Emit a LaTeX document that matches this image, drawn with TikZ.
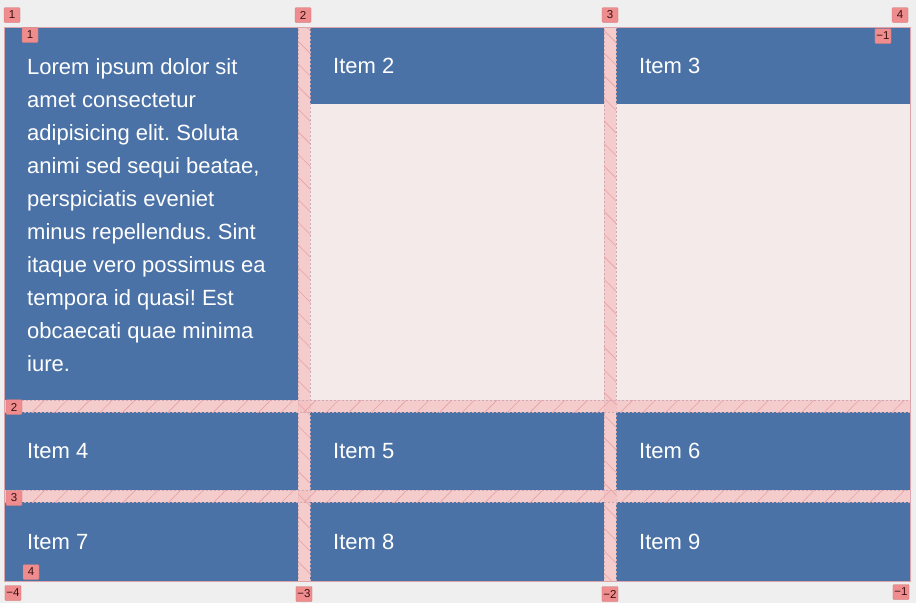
\documentclass[tikz,border=0pt]{standalone}
\usepackage{fontspec}
\setmainfont{Liberation Sans}
\usetikzlibrary{patterns.meta}
\frenchspacing
\definecolor{pagebg}{HTML}{EFEFEF}
\definecolor{gridbg}{HTML}{F4EAEA}
\definecolor{itemblue}{HTML}{4B72A6}
\definecolor{gapfill}{HTML}{F4C2C2}
\definecolor{hatchc}{HTML}{E6A2A6}
\definecolor{dashc}{HTML}{CDAAB6}
\definecolor{tagfill}{HTML}{EE8C8E}
\definecolor{tagtext}{HTML}{3A1010}
\definecolor{gridline}{HTML}{DCA4AC}
\tikzset{
  cell/.style={fill=itemblue, draw=none, inner sep=0, anchor=north west},
  itemtext/.style={text=white, font=\fontsize{22}{33}\selectfont, anchor=west, inner sep=0},
  gapbox/.style={fill=gapfill, fill opacity=0.75, draw=dashc, dash pattern=on 2pt off 2pt, line width=0.5pt, inner sep=0, anchor=north west},
  hatchp/.style={pattern={Lines[distance=16pt, angle=#1, line width=0.6pt]}, pattern color=hatchc},
  tag/.style={fill=tagfill, draw=tagfill!85!black, line width=0.3pt, text=tagtext, font=\fontsize{11.5}{12}\selectfont, inner sep=1.5pt, minimum width=16pt, minimum height=15pt, rounded corners=1pt},
}
\begin{document}
\begin{tikzpicture}[x=1pt,y=-1pt]
\useasboundingbox (0,0) rectangle (916,603);
\fill[pagebg] (0,0) rectangle (916,603);
% container
\node[fill=gridbg, draw=none, inner sep=0, anchor=north west, minimum width=906pt, minimum height=554pt] (grid) at (4,27) {};
% items
\node[cell, minimum width=294pt, minimum height=373pt] (c1) at (4,27) {};
\node[cell, minimum width=294pt, minimum height=77pt] (c2) at (310,27) {};
\node[cell, minimum width=294pt, minimum height=77pt] (c3) at (616,27) {};
\node[cell, minimum width=294pt, minimum height=78pt] (c4) at (4,412) {};
\node[cell, minimum width=294pt, minimum height=78pt] (c5) at (310,412) {};
\node[cell, minimum width=294pt, minimum height=78pt] (c6) at (616,412) {};
\node[cell, minimum width=294pt, minimum height=79pt] (c7) at (4,502) {};
\node[cell, minimum width=294pt, minimum height=79pt] (c8) at (310,502) {};
\node[cell, minimum width=294pt, minimum height=79pt] (c9) at (616,502) {};
% texts
\node[text=white, font=\fontsize{22}{33}\selectfont, anchor=north west, inner sep=0, align=left] (t1) at (27,58) {Lorem ipsum dolor sit\\amet consectetur\\adipisicing elit. Soluta\\animi sed sequi beatae,\\perspiciatis eveniet\\minus repellendus. Sint\\itaque vero possimus ea\\tempora id quasi! Est\\obcaecati quae minima\\iure.};
\node[itemtext] (t2) at ([xshift=23pt]c2.west) {Item 2};
\node[itemtext] (t3) at ([xshift=23pt]c3.west) {Item 3};
\node[itemtext] (t4) at ([xshift=23pt]c4.west) {Item 4};
\node[itemtext] (t5) at ([xshift=23pt]c5.west) {Item 5};
\node[itemtext] (t6) at ([xshift=23pt]c6.west) {Item 6};
\node[itemtext] (t7) at ([xshift=23pt]c7.west) {Item 7};
\node[itemtext] (t8) at ([xshift=23pt]c8.west) {Item 8};
\node[itemtext] (t9) at ([xshift=23pt]c9.west) {Item 9};
% gaps
\node[gapbox, minimum width=12pt, minimum height=554pt] (gv1) at (298,27) {};
\node[gapbox, minimum width=12pt, minimum height=554pt] (gv2) at (604,27) {};
\node[gapbox, minimum width=906pt, minimum height=12pt] (gh1) at (4,400) {};
\node[gapbox, minimum width=906pt, minimum height=12pt] (gh2) at (4,490) {};
\path[hatchp=-45] (gv1.north west) rectangle (gv1.south east);
\path[hatchp=-45] (gv2.north west) rectangle (gv2.south east);
\path[hatchp=45] (gh1.north west) rectangle (gh1.south east);
\path[hatchp=45] (gh2.north west) rectangle (gh2.south east);
% container outline
\draw[gridline, line width=0.6pt] (grid.north west) rectangle (grid.south east);
% line number tags
\node[tag] (a1) at (12,15) {1};
\node[tag] (a2) at (303,15) {2};
\node[tag] (a3) at (610,15) {3};
\node[tag] (a4) at (900,15) {4};
\node[tag] (b1) at (30,35) {1};
\node[tag] (bm1) at (883,36) {−1};
\node[tag] (l2) at (14,407) {2};
\node[tag] (l3) at (14,498) {3};
\node[tag] (l4) at (31,572) {4};
\node[tag] (m4) at (13,593) {−4};
\node[tag] (m3) at (304,594) {−3};
\node[tag] (m2) at (610,594) {−2};
\node[tag] (m1) at (901,592) {−1};
\end{tikzpicture}
\end{document}
